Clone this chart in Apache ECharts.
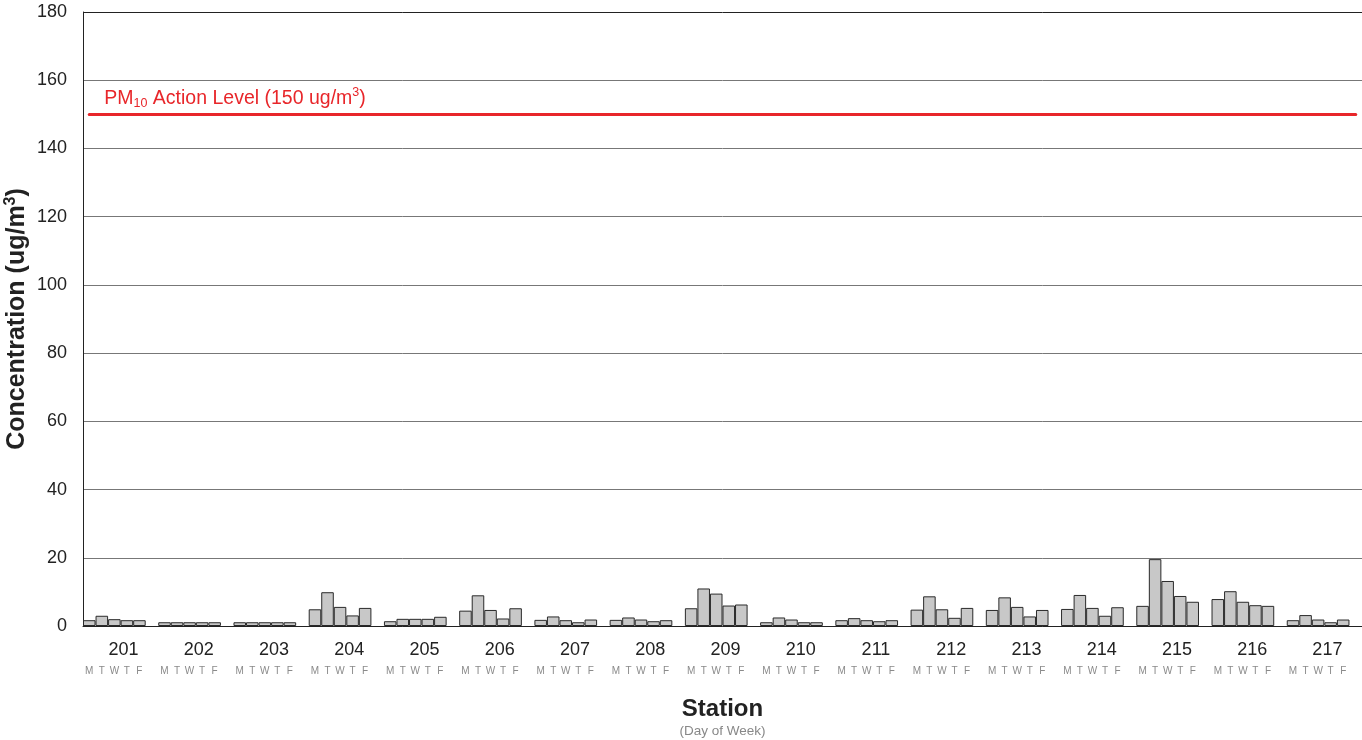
<!DOCTYPE html>
<html><head><meta charset="utf-8">
<script src="https://cdn.jsdelivr.net/npm/echarts@6/dist/echarts.min.js"></script>
<style>html,body{margin:0;padding:0;background:#fff}#c{width:1362px;height:740px}</style>
</head><body><div id="c"></div>
<script>
const stations = ['201','202','203','204','205','206','207','208','209','210','211','212','213','214','215','216','217'];
const days = ['M','T','W','T','F'];
const yTicks = [0,20,40,60,80,100,120,140,160,180];
const actionLevel = 150;
// values per station, Mon..Fri (ug/m3)
const v201 = [1.7, 3.0, 2.0, 1.7, 1.7];
const v202 = [1.1, 1.1, 1.1, 1.1, 1.1];
const v203 = [1.1, 1.1, 1.1, 1.1, 1.1];
const v204 = [4.9, 9.9, 5.6, 3.1, 5.3];
const v205 = [1.4, 2.1, 2.1, 2.1, 2.7];
const v206 = [4.5, 9.0, 4.7, 2.2, 5.2];
const v207 = [1.8, 2.8, 1.7, 1.1, 1.9];
const v208 = [1.8, 2.5, 1.9, 1.4, 1.7];
const v209 = [5.2, 11.0, 9.5, 6.0, 6.3];
const v210 = [1.1, 2.5, 1.9, 1.1, 1.1];
const v211 = [1.7, 2.3, 1.7, 1.4, 1.7];
const v212 = [4.8, 8.7, 4.9, 2.4, 5.3];
const v213 = [4.7, 8.4, 5.6, 2.8, 4.7];
const v214 = [5.0, 9.1, 5.3, 3.0, 5.5];
const v215 = [5.9, 19.6, 13.2, 8.8, 7.1];
const v216 = [7.9, 10.2, 7.1, 6.1, 5.9];
const v217 = [1.7, 3.2, 1.9, 1.1, 1.9];
const values = [v201,v202,v203,v204,v205,v206,v207,v208,v209,v210,v211,v212,v213,v214,v215,v216,v217];

const slotCats = [], slotData = [];
values.forEach((vals, i) => {
  vals.forEach((v, j) => { slotCats.push(stations[i] + '-' + j); slotData.push(v); });
  slotCats.push(stations[i] + '-gap'); slotData.push('-');
});
const font = "'Liberation Sans', Arial, sans-serif";
const gridColors = yTicks.map((t, i) => i === yTicks.length - 1 ? '#222' : '#777');

const chart = echarts.init(document.getElementById('c'), null, {renderer: 'canvas'});
chart.setOption({
  animation: false,
  textStyle: {fontFamily: font},
  grid: {left: 83, right: 0, top: 12, bottom: 114, containLabel: false, outerBoundsMode: 'none'},
  xAxis: [{
    type: 'category', data: slotCats, boundaryGap: true,
    axisLine: {show: true, lineStyle: {color: '#222', width: 1}},
    axisTick: {show: false},
    axisLabel: {
      interval: 0, fontSize: 10, color: '#8a8a8a', margin: 40, fontFamily: font,
      formatter: (val) => { const k = val.split('-')[1]; return k === 'gap' ? '' : days[+k]; }
    },
    name: '{a|Station}\n{b|(Day of Week)}',
    nameLocation: 'middle', nameGap: 70, nameMoveOverlap: false,
    nameTextStyle: {
      rich: {
        a: {fontSize: 24, fontWeight: 'bold', color: '#222', lineHeight: 26, fontFamily: font},
        b: {fontSize: 13.5, color: '#888', lineHeight: 18, fontFamily: font}
      }
    }
  }, {
    type: 'category', data: stations, position: 'bottom',
    axisLine: {show: false}, axisTick: {show: false},
    axisLabel: {interval: 0, fontSize: 18, color: '#222', margin: 15, padding: [0, 0, 0, 6], fontFamily: font}
  }],
  yAxis: {
    type: 'value', min: 0, max: 180, interval: 20,
    axisLine: {show: true, lineStyle: {color: '#222', width: 1}},
    axisTick: {show: false},
    axisLabel: {fontSize: 18, color: '#222', margin: 16, fontFamily: font},
    splitLine: {show: true, lineStyle: {color: gridColors, width: 1}},
    name: '{a|Concentration (ug/m}{s|3}{a|)}',
    nameLocation: 'middle', nameGap: 52, nameMoveOverlap: false,
    nameTextStyle: {
      rich: {
        a: {fontSize: 25, fontWeight: 'bold', color: '#222', lineHeight: 28, fontFamily: font},
        s: {fontSize: 16, fontWeight: 'bold', color: '#222', verticalAlign: 'top', lineHeight: 28, padding: [0, 0, 10, 0], fontFamily: font}
      }
    }
  },
  series: [{
    type: 'bar', xAxisIndex: 0, data: slotData, barCategoryGap: 0,
    itemStyle: {color: '#c8c8c8', borderColor: '#2a2a2a', borderWidth: 1},
    markLine: {
      silent: true, symbol: 'none',
      lineStyle: {color: '#e8262a', width: 3, type: 'solid', cap: 'round'},
      label: {
        show: true, position: 'insideStartTop', distance: [15, 4],
        formatter: '{a|PM}{b|10}{a| Action Level (150 ug/m}{c|3}{a|)}',
        rich: {
          a: {fontSize: 19.5, color: '#e8262a', lineHeight: 24, fontFamily: font},
          b: {fontSize: 12.5, color: '#e8262a', lineHeight: 24, verticalAlign: 'bottom', padding: [7, 0, 0, 0], fontFamily: font},
          c: {fontSize: 12.5, color: '#e8262a', lineHeight: 24, verticalAlign: 'top', padding: [0, 0, 7, 0], fontFamily: font}
        }
      },
      data: [[{xAxis: 0, yAxis: actionLevel}, {xAxis: slotCats.length - 1, yAxis: actionLevel}]]
    }
  }]
});
</script></body></html>
